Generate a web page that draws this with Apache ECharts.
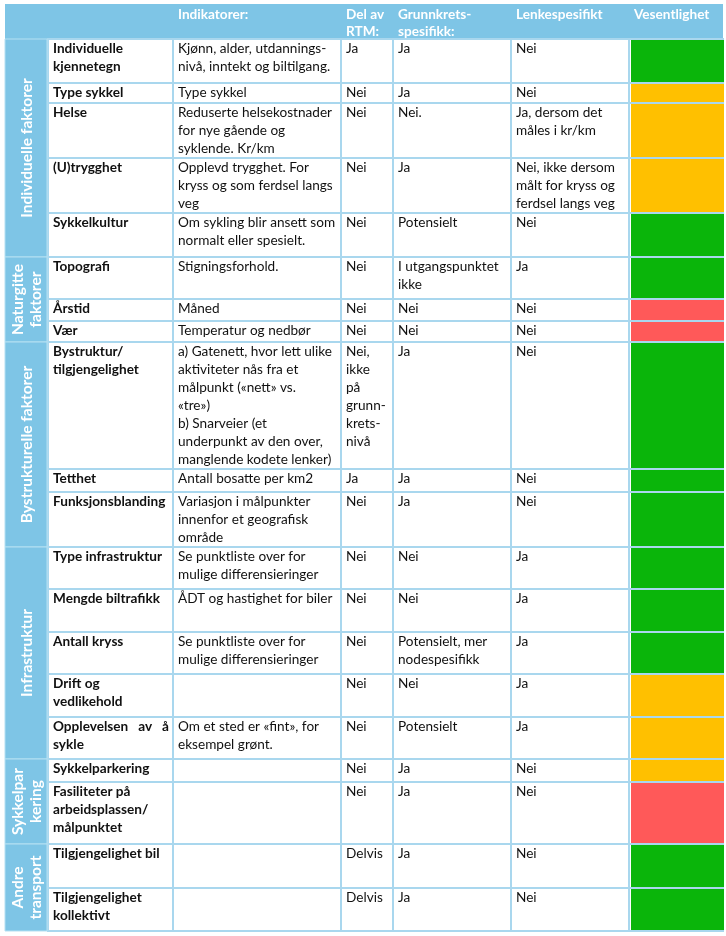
<!DOCTYPE html>
<html>
<head>
<meta charset="utf-8">
<script src="https://cdn.jsdelivr.net/npm/echarts@6/dist/echarts.min.js"></script>
<style>
  html, body { margin: 0; padding: 0; background: #fff; }
  #chart { width: 726px; height: 936px; }
</style>
</head>
<body>
<div id="chart"></div>
<script>
// column headers
var headers = ['', '', 'Indikatorer:', 'Del av\nRTM:', 'Grunnkrets-\nspesifikk:', 'Lenkespesifikt', 'Vesentlighet'];

// groups (left column) and how many rows each spans
var groups = ['Individuelle faktorer', 'Naturgitte\nfaktorer', 'Bystrukturelle faktorer', 'Infrastruktur', 'Sykkelpar\nkering', 'Andre\ntransport'];
var groupSizes = [5, 3, 3, 5, 2, 2];

var names = ['Individuelle\nkjennetegn', 'Type sykkel', 'Helse', '(U)trygghet', 'Sykkelkultur',
  'Topografi', 'Årstid', 'Vær',
  'Bystruktur/\ntilgjengelighet', 'Tetthet', 'Funksjonsblanding',
  'Type infrastruktur', 'Mengde biltrafikk', 'Antall kryss', 'Drift og\nvedlikehold', 'Opplevelsen   av   å\nsykle',
  'Sykkelparkering', 'Fasiliteter på\narbeidsplassen/\nmålpunktet',
  'Tilgjengelighet bil', 'Tilgjengelighet\nkollektivt'];

var indicators = ['Kjønn, alder, utdannings-\nnivå, inntekt og biltilgang.', 'Type sykkel',
  'Reduserte helsekostnader\nfor nye gående og\nsyklende. Kr/km',
  'Opplevd trygghet. For\nkryss og som ferdsel langs\nveg',
  'Om sykling blir ansett som\nnormalt eller spesielt.',
  'Stigningsforhold.', 'Måned', 'Temperatur og nedbør',
  'a) Gatenett, hvor lett ulike\naktiviteter nås fra et\nmålpunkt («nett» vs.\n«tre»)\nb) Snarveier (et\nunderpunkt av den over,\nmanglende kodete lenker)',
  'Antall bosatte per km2', 'Variasjon i målpunkter\ninnenfor et geografisk\nområde',
  'Se punktliste over for\nmulige differensieringer', 'ÅDT og hastighet for biler',
  'Se punktliste over for\nmulige differensieringer', '', 'Om et sted er «fint», for\neksempel grønt.',
  '', '', '', ''];

var delAvRtm = ['Ja', 'Nei', 'Nei', 'Nei', 'Nei', 'Nei', 'Nei', 'Nei',
  'Nei,\nikke\npå\ngrunn-\nkrets-\nnivå', 'Ja', 'Nei',
  'Nei', 'Nei', 'Nei', 'Nei', 'Nei', 'Nei', 'Nei', 'Delvis', 'Delvis'];

var grunnkrets = ['Ja', 'Ja', 'Nei.', 'Ja', 'Potensielt', 'I utgangspunktet\nikke', 'Nei', 'Nei',
  'Ja', 'Ja', 'Ja', 'Nei', 'Nei', 'Potensielt, mer\nnodespesifikk', 'Nei', 'Potensielt',
  'Ja', 'Ja', 'Ja', 'Ja'];

var lenke = ['Nei', 'Nei', 'Ja, dersom det\nmåles i kr/km', 'Nei, ikke dersom\nmålt for kryss og\nferdsel langs veg',
  'Nei', 'Ja', 'Nei', 'Nei', 'Nei', 'Nei', 'Nei', 'Ja', 'Ja', 'Ja', 'Ja', 'Ja', 'Nei', 'Nei', 'Nei', 'Nei'];

// vesentlighet: 3 = høy (grønn), 2 = middels (oransje), 1 = lav (rød)
var vesentlighet = [3, 2, 2, 2, 3, 3, 1, 1, 3, 3, 3, 3, 3, 3, 2, 2, 2, 1, 3, 3];

// layout
var colEdges = [0, 43, 168, 336, 388, 506, 624, 718];
var headerHeight = 35;
var rowHeights = [44, 20, 55, 55, 44, 42, 22, 21, 127, 23, 55, 42, 43, 42, 43, 42, 23, 62, 44, 43];
var rowTops = [];
var acc = headerHeight;
rowHeights.forEach(function (h) { rowTops.push(acc); acc += h; });
var totalHeight = acc;

var headBlue = '#7ec5e6';
var border = '#a9d7ee';
var levelColors = { 1: '#ff5959', 2: '#ffc000', 3: '#0ab50a' };
var fontFamily = 'Lato, "Open Sans", sans-serif';
var fontSize = 13.6;
var lineH = 18;

var myChart = echarts.init(document.getElementById('chart'));

function box(api, x0, y0, x1, y1) {
  var a = api.coord([x0, y0]);
  var b = api.coord([x1, y1]);
  return { x: a[0], y: a[1], width: b[0] - a[0], height: b[1] - a[1] };
}

function renderHeader(params, api) {
  var children = [];
  children.push({ type: 'rect', shape: box(api, 0, 0, colEdges[7], headerHeight), style: { fill: headBlue } });
  for (var c = 2; c < headers.length; c++) {
    var p = api.coord([colEdges[c], 0]);
    children.push({
      type: 'text',
      style: {
        text: headers[c], x: p[0] + 5, y: p[1] + 2,
        fill: '#fff', fontFamily: fontFamily, fontSize: fontSize, fontWeight: 'bold',
        lineHeight: 17, textAlign: 'left', textVerticalAlign: 'top'
      }
    });
  }
  return { type: 'group', children: children };
}

function renderGroup(params, api) {
  var g = api.value(0);
  var start = 0;
  for (var k = 0; k < g; k++) start += groupSizes[k];
  var y0 = rowTops[start];
  var y1 = rowTops[start + groupSizes[g] - 1] + rowHeights[start + groupSizes[g] - 1];
  var r = box(api, colEdges[0], y0, colEdges[1] - 1, y1);
  return {
    type: 'group',
    children: [
      { type: 'rect', shape: r, style: { fill: headBlue, stroke: '#b5e0f2', lineWidth: 1 } },
      {
        type: 'text', x: r.x + r.width / 2 + 1, y: r.y + r.height / 2, rotation: Math.PI / 2,
        style: {
          text: groups[g], fill: '#fff', fontFamily: fontFamily, fontSize: 15.5, fontWeight: 'bold',
          lineHeight: 18, textAlign: 'center', textVerticalAlign: 'middle'
        }
      }
    ]
  };
}

var cellCols = [names, indicators, delAvRtm, grunnkrets, lenke];

function renderRow(params, api) {
  var i = api.value(0);
  var top = rowTops[i], bottom = rowTops[i] + rowHeights[i];
  var children = [];
  for (var c = 0; c < cellCols.length; c++) {
    var r = box(api, colEdges[c + 1], top, colEdges[c + 2], bottom);
    children.push({ type: 'rect', shape: r, style: { fill: '#fff', stroke: border, lineWidth: 2 } });
    children.push({
      type: 'text',
      style: {
        text: cellCols[c][i], x: r.x + 5, y: r.y + 1,
        fill: '#111', fontFamily: fontFamily, fontSize: fontSize,
        fontWeight: c === 0 ? 'bold' : 'normal',
        lineHeight: lineH, textAlign: 'left', textVerticalAlign: 'top'
      }
    });
  }
  var vr = box(api, colEdges[6], top, colEdges[7], bottom);
  children.push({ type: 'rect', shape: vr, style: { fill: '#fff', stroke: border, lineWidth: 2 } });
  children.push({
    type: 'rect',
    shape: { x: vr.x + 2, y: vr.y + 1, width: vr.width - 1, height: vr.height - 2 },
    style: { fill: levelColors[api.value(1)] }
  });
  return { type: 'group', children: children };
}

myChart.setOption({
  animation: false,
  grid: { left: 5, top: 4, width: colEdges[7], height: totalHeight },
  xAxis: { type: 'value', min: 0, max: colEdges[7], show: false },
  yAxis: { type: 'value', min: 0, max: totalHeight, inverse: true, show: false },
  series: [
    {
      type: 'custom', name: 'header', clip: false, silent: true,
      renderItem: renderHeader, data: [[0]]
    },
    {
      type: 'custom', name: 'rader', clip: false, silent: true,
      renderItem: renderRow,
      data: names.map(function (n, i) { return [i, vesentlighet[i]]; })
    },
    {
      type: 'custom', name: 'grupper', clip: false, silent: true,
      renderItem: renderGroup,
      data: groups.map(function (g, i) { return [i]; })
    }
  ]
});
</script>
</body>
</html>
